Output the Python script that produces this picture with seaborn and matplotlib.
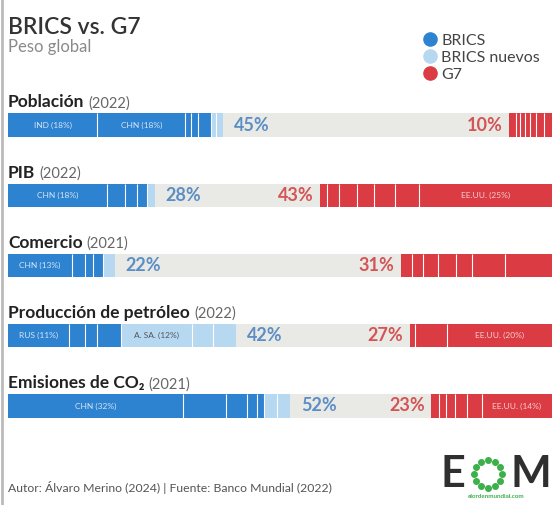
import numpy as np
import pandas as pd
import matplotlib.pyplot as plt
import seaborn as sns
from matplotlib.lines import Line2D

# data (segment widths in % of the bar)
rows = ['Población', 'PIB', 'Comercio', 'Producción de petróleo', 'Emisiones de CO₂']
years = ['(2022)', '(2022)', '(2021)', '(2022)', '(2021)']
brics_pct = [45, 28, 22, 42, 52]
g7_pct = [10, 43, 31, 27, 23]

brics_segs = [[16.4, 16.2, 1.0, 1.3, 2.4],
              [18.2, 3.3, 2.2, 1.8],
              [11.8, 2.4, 1.5, 1.7],
              [11.2, 2.9, 2.2, 4.4],
              [32.2, 7.9, 3.9, 1.7, 1.3]]
new_segs = [[1.0, 1.2],
            [1.5],
            [2.2],
            [13.1, 3.9, 4.2],
            [2.4, 2.4]]
# G7 segments listed from the right end of the bar
g7_segs = [[1.5, 1.5, 1.0, 0.9, 0.9, 0.9, 1.2],
           [24.4, 4.4, 3.9, 3.1, 3.3, 2.2, 1.3],
           [8.6, 6.1, 2.9, 3.3, 2.8, 2.0, 2.0],
           [19.3, 5.9, 0.9],
           [12.9, 2.8, 2.2, 1.5, 1.3, 1.5]]

brics_labels = [['IND (18%)', 'CHN (18%)'], ['CHN (18%)'], ['CHN (13%)'], ['RUS (11%)'], ['CHN (32%)']]
new_labels = [[], [], [], ['A. SA. (12%)'], []]
g7_labels = [[], ['EE.UU. (25%)'], [], ['EE.UU. (20%)'], ['EE.UU. (14%)']]

BLUE = '#2d83cf'
LIGHT = '#b6d8f1'
RED = '#db3b42'
GRAY = '#e9eae5'
BLUE_TXT = '#5c8ec6'
RED_TXT = '#d45555'

sns.set_style('white')
plt.rcParams['font.family'] = ['Lato', 'DejaVu Sans']

fig = plt.figure(figsize=(5.52, 5.05), dpi=100)
ax = fig.add_axes([8 / 552, 0.1265, 544 / 552, 0.6955])

bar_h = 0.33
bg = pd.DataFrame({'row': rows, 'total': [100] * len(rows)})
sns.barplot(data=bg, x='total', y='row', color=GRAY, saturation=1,
            width=bar_h, linewidth=0, ax=ax)

for i in range(len(rows)):
    edges = []
    left = 0
    for groups, col, labs, txtcol in [(brics_segs[i], BLUE, brics_labels[i], '#d6e6f6'),
                                      (new_segs[i], LIGHT, new_labels[i], '#555555')]:
        for k, w in enumerate(groups):
            ax.barh(i, w, left=left, height=bar_h, color=col, linewidth=0)
            if k < len(labs):
                ax.text(left + w / 2, i, labs[k], ha='center', va='center',
                        fontsize=6, color=txtcol)
            left += w
            edges.append(left)
    brics_end = left
    edges = edges[:-1]

    right = 100
    for k, w in enumerate(g7_segs[i]):
        ax.barh(i, w, left=right - w, height=bar_h, color=RED, linewidth=0)
        if k < len(g7_labels[i]):
            ax.text(right - w / 2, i, g7_labels[i][k], ha='center', va='center',
                    fontsize=6, color='#f6cfcf')
        right -= w
        edges.append(right + w)
    edges = [e for e in edges if e < 100]
    ax.vlines(edges, i - bar_h / 2, i + bar_h / 2, color='white', linewidth=0.8)

    ax.text(brics_end + 2.0, i, f'{brics_pct[i]}%', ha='left', va='center',
            fontsize=13, fontweight='bold', color=BLUE_TXT)
    ax.text(right - 1.2, i, f'{g7_pct[i]}%', ha='right', va='center',
            fontsize=13, fontweight='bold', color=RED_TXT)

    t = ax.text(0, i - 0.21, rows[i], ha='left', va='bottom', fontsize=12.5,
                fontweight='bold', color='#222222')
    ax.annotate(years[i], xy=(1, 0), xycoords=t, xytext=(3, 0),
                textcoords='offset points', ha='left', va='bottom',
                fontsize=10.5, color='#666666')

ax.set_xlim(0, 100)
ax.set_ylim(4.5, -0.5)
ax.axis('off')

# header
fig.text(8 / 552, 1 - 28 / 505, 'BRICS vs. G7', fontsize=16.5, fontweight='semibold',
         color='#333333', ha='left', va='center')
fig.text(8 / 552, 1 - 47 / 505, 'Peso global', fontsize=12, color='#8a8a8a',
         ha='left', va='center')

handles = [Line2D([], [], marker='o', linestyle='', markersize=10.5, color=c,
                  markeredgecolor='none') for c in [BLUE, LIGHT, RED]]
fig.legend(handles, ['BRICS', 'BRICS nuevos', 'G7'], loc='upper left',
           bbox_to_anchor=(414 / 552, 1 - 27 / 505), frameon=False, fontsize=11.5,
           handletextpad=0.1, labelspacing=0.18, borderaxespad=0, handlelength=1.2,
           labelcolor='#444444')

# footer
fig.text(8 / 552, 1 - 487 / 505, 'Autor: Álvaro Merino (2024) | Fuente: Banco Mundial (2022)',
         fontsize=8.8, color='#555555', ha='left', va='center')
fig.text(440 / 552, 1 - 474 / 505, 'E', fontsize=31, fontweight='bold', color='#2f2f2f',
         ha='left', va='center')
ang = np.linspace(0, 2 * np.pi, 13)[:-1]
fig.add_artist(Line2D(488 / 552 + 0.026 * np.cos(ang), 1 - 474 / 505 + 0.028 * np.sin(ang),
                      marker='o', linestyle='', markersize=4, color='#3cb04a',
                      transform=fig.transFigure))
fig.text(510 / 552, 1 - 474 / 505, 'M', fontsize=31, fontweight='bold', color='#2f2f2f',
         ha='left', va='center')
fig.text(496 / 552, 1 - 496 / 505, 'elordenmundial.com', fontsize=4.5, fontweight='bold',
         color='#3cb04a', ha='center', va='center')

# thin grey rule on the left edge
fig.add_artist(Line2D([0.004, 0.004], [0, 1], color='#bbbbbb', linewidth=2,
                      transform=fig.transFigure))

fig.savefig('out.png', dpi=100)
